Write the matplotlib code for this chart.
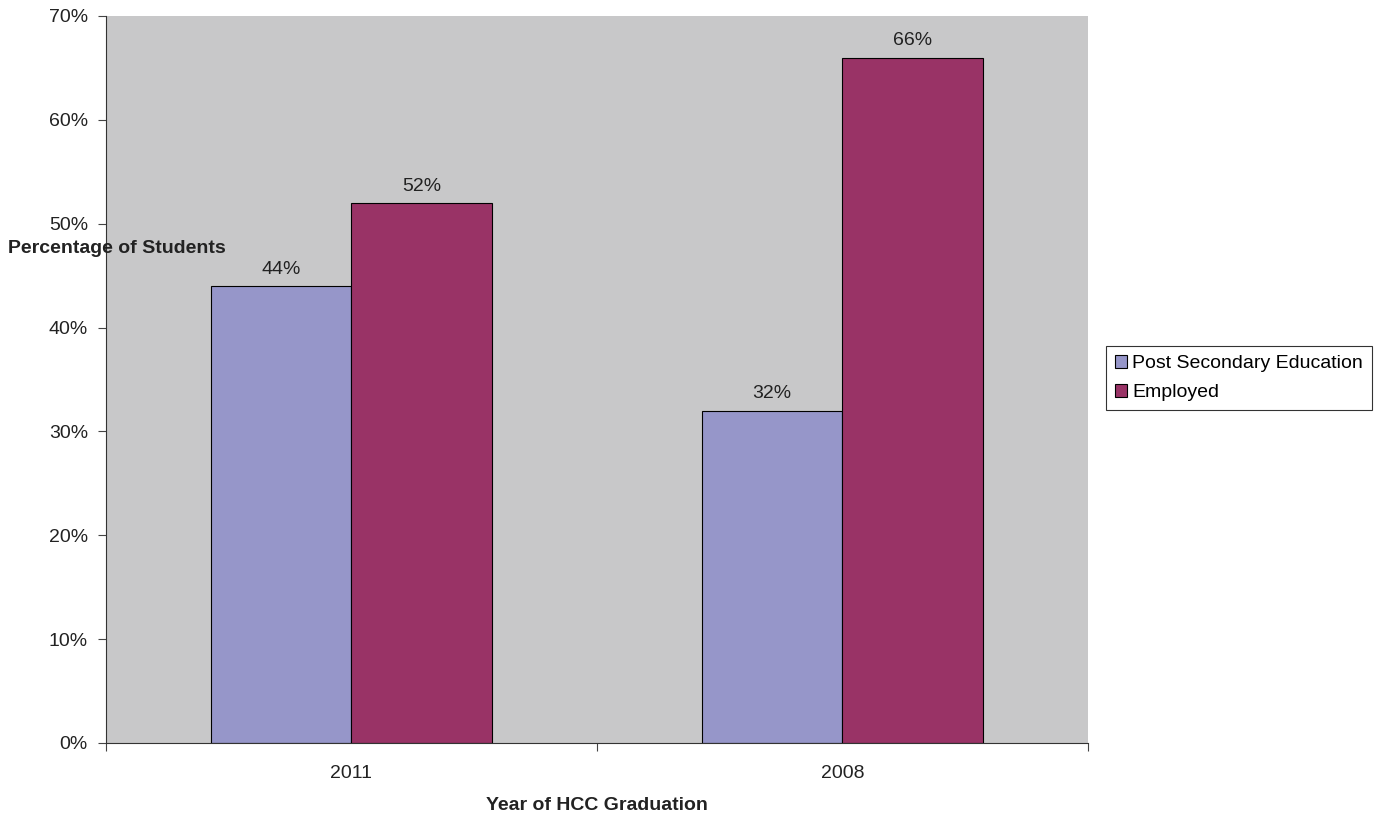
import matplotlib.pyplot as plt
import numpy as np

plt.rcParams["font.family"] = ["Liberation Sans", "DejaVu Sans"]

years = ["2011", "2008"]
post_secondary = [44, 32]
employed = [52, 66]
series_names = ["Post Secondary Education", "Employed"]
colors = ["#9696C9", "#993366"]

fig = plt.figure(figsize=(13.85, 8.19), dpi=100)
ax = fig.add_axes([0.0765, 0.0928, 0.709, 0.8877])
ax.set_facecolor("#C8C8C9")

x = np.arange(len(years))
width = 0.287

for i, (vals, name, col) in enumerate(zip([post_secondary, employed], series_names, colors)):
    b = ax.bar(x + (i - 0.5) * width, vals, width, color=col, edgecolor="black",
               linewidth=0.8, label=name, zorder=2)
    for rect, v in zip(b, vals):
        ax.annotate(f"{v}%", (rect.get_x() + rect.get_width() / 2, v),
                    xytext=(0, 6), textcoords="offset points",
                    ha="center", va="bottom", fontsize=14, color="#222222")

ax.set_xlim(-0.5, 1.5)
ax.set_ylim(0, 70)
ax.set_yticks(np.arange(0, 71, 10))
ax.set_yticklabels([f"{v}%" for v in range(0, 71, 10)], fontsize=14, color="#222222")

ax.set_xticks([-0.5, 0.5, 1.5])
ax.set_xticklabels([])
ax.set_xticks(x, minor=True)
ax.set_xticklabels(years, minor=True, fontsize=14, color="#222222")
ax.tick_params(axis="x", which="minor", length=0, pad=16)
ax.tick_params(axis="x", which="major", length=6, direction="out", color="#444444")
ax.tick_params(axis="y", length=6, direction="out", color="#444444", pad=7)

for side in ["top", "right"]:
    ax.spines[side].set_visible(False)
ax.spines["left"].set_color("#333333")
ax.spines["bottom"].set_color("#333333")

fig.text(0.006, 0.697, "Percentage of Students", fontsize=14, fontweight="bold",
         ha="left", va="center", color="#222222")
fig.text(0.431, 0.0165, "Year of HCC Graduation", fontsize=14, fontweight="bold",
         ha="center", va="center", color="#222222")

leg = ax.legend(loc="center left", bbox_to_anchor=(1.0185, 0.502), fontsize=14,
                frameon=True, fancybox=False, edgecolor="black", handlelength=0.65,
                handleheight=0.65, handletextpad=0.25, borderpad=0.45, labelspacing=0.6,
                borderaxespad=0)
leg.get_frame().set_linewidth(0.8)

fig.savefig("out.png", dpi=100)
